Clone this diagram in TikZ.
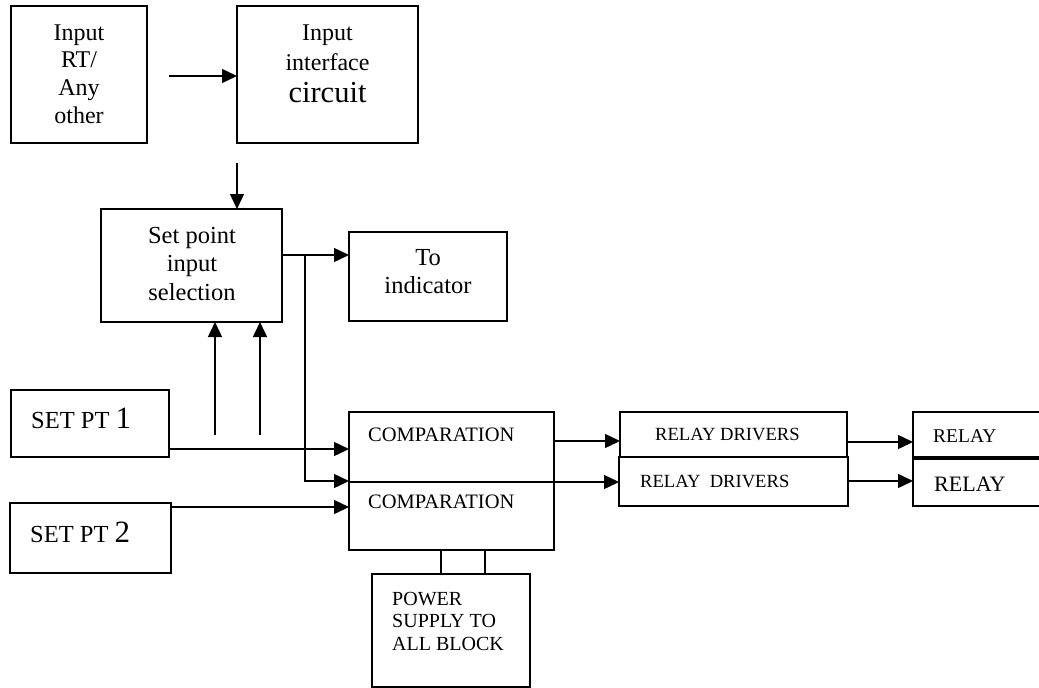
\documentclass[tikz,border=0pt]{standalone}
\usepackage{fontspec}
\setmainfont{Liberation Serif}
\usetikzlibrary{arrows.meta}
\newcommand\mlines[1]{\begin{tabular}[t]{@{}c@{}}#1\end{tabular}}
\newcommand\llines[1]{\begin{tabular}[t]{@{}l@{}}#1\end{tabular}}
\begin{document}
\begin{tikzpicture}[x=1pt,y=-1pt,
  blk/.style={draw, line width=1.5pt, inner sep=0pt, outer sep=0pt, anchor=north west},
  lbl/.style={inner sep=0pt, anchor=base},
  lblw/.style={inner sep=0pt, anchor=base west},
  wire/.style={line width=1.4pt},
  arr/.style={wire, -{Triangle[length=15pt,width=14pt]}},
]
\useasboundingbox (0,0) rectangle (1039,688);
\clip (0,0) rectangle (1039,688);

% blocks
\node[blk, minimum width=136pt, minimum height=137pt] (inp) at (11,6) {};
\node[blk, minimum width=181pt, minimum height=137pt] (iface) at (237,6) {};
\node[blk, minimum width=181pt, minimum height=113pt] (sp) at (101,209) {};
\node[blk, minimum width=158pt, minimum height=89pt] (ind) at (349,232) {};
\node[blk, minimum width=158pt, minimum height=67pt] (s1) at (11,390) {};
\node[blk, minimum width=161pt, minimum height=70pt] (s2) at (10,503) {};
\node[blk, minimum width=205pt, minimum height=70pt] (c1) at (349,412) {};
\node[blk, minimum width=205pt, minimum height=68pt] (c2) at (349,482) {};
\node[blk, minimum width=158pt, minimum height=113pt] (ps) at (372,574) {};
\node[blk, minimum width=227pt, minimum height=45pt] (rd1) at (620,412) {};
\node[blk, minimum width=229pt, minimum height=49pt] (rd2) at (619,457) {};
\node[blk, minimum width=147pt, minimum height=45pt] (r1) at (913,412) {};
\node[blk, minimum width=147pt, minimum height=47pt] (r2) at (913,459) {};

% texts
\node[lbl] (tinp) at (79,40) {\fontsize{24}{27.7}\selectfont\mlines{Input\\RT/\\Any\\other}};
\node[lbl] (tif1) at (327.5,40) {\fontsize{24}{27}\selectfont Input};
\node[lbl] (tif2) at (327.5,70) {\fontsize{24}{27}\selectfont interface};
\node[lbl] (tif3) at (327.5,102) {\fontsize{30.5}{33}\selectfont circuit};
\node[lbl] (tsp) at (192,243) {\fontsize{24.5}{28.5}\selectfont\mlines{Set point\\input\\selection}};
\node[lbl] (tind) at (428,265) {\fontsize{24.5}{28}\selectfont\mlines{To\\indicator}};
\node[lblw] (ts1) at (31,428) {\fontsize{24.5}{27}\selectfont SET PT {\fontsize{31}{33}\selectfont 1}};
\node[lblw] (ts2) at (30,542) {\fontsize{24.5}{27}\selectfont SET PT {\fontsize{31}{33}\selectfont 2}};
\node[lblw] (tc1) at (368,441) {\fontsize{20.5}{22}\selectfont COMPARATION};
\node[lblw] (tc2) at (368,508) {\fontsize{20.5}{22}\selectfont COMPARATION};
\node[lblw] (tps) at (392,605) {\fontsize{20}{22.5}\selectfont\llines{POWER\\SUPPLY TO\\ALL BLOCK}};
\node[lblw] (trd1) at (655,440) {\fontsize{18.6}{20}\selectfont RELAY DRIVERS};
\node[lblw] (trd2) at (640,487) {\fontsize{18.6}{20}\selectfont RELAY\ \ DRIVERS};
\node[lblw] (tr1) at (933,442) {\fontsize{19.5}{21}\selectfont RELAY};
\node[lblw] (tr2) at (934,491) {\fontsize{22}{24}\selectfont RELAY};

% connectors
\coordinate (a0) at (169,76);
\draw[arr] (a0) -- (a0 -| iface.west);
\coordinate (a1) at (237,163);
\draw[arr] (a1) -- (a1 |- sp.north);
\coordinate (j) at (305,255);
\draw[arr] (j -| sp.east) -- (j -| ind.west);
\coordinate (jb) at (305,481);
\draw[arr] (j) -- (jb) -- (jb -| c1.west);
\coordinate (u1) at (215,435);
\draw[arr] (u1) -- (u1 |- sp.south);
\coordinate (u2) at (260,435);
\draw[arr] (u2) -- (u2 |- sp.south);
\coordinate (p1) at (0,449);
\draw[arr] (p1 -| s1.east) -- (p1 -| c1.west);
\coordinate (p2) at (0,507);
\draw[arr] (p2 -| s2.east) -- (p2 -| c2.west);
\coordinate (q1) at (0,441);
\draw[arr] (q1 -| c1.east) -- (q1 -| rd1.west);
\coordinate (q2) at (0,482);
\draw[arr] (q2 -| c1.east) -- (q2 -| rd2.west);
\coordinate (q3) at (0,442);
\draw[arr] (q3 -| rd1.east) -- (q3 -| r1.west);
\coordinate (q4) at (0,481);
\draw[arr] (q4 -| rd2.east) -- (q4 -| r2.west);
\coordinate (v1) at (441,0);
\draw[wire] (v1 |- c2.south) -- (v1 |- ps.north);
\coordinate (v2) at (485,0);
\draw[wire] (v2 |- c2.south) -- (v2 |- ps.north);
\end{tikzpicture}
\end{document}
